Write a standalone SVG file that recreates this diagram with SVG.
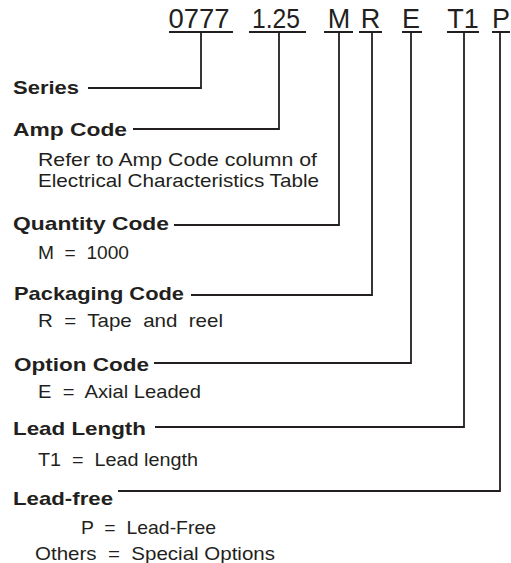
<svg xmlns="http://www.w3.org/2000/svg" width="511" height="563" viewBox="0 0 511 563">
<style>
.code{font-family:"Liberation Sans",Arial,sans-serif;font-size:27px;fill:#231f20;text-anchor:middle}
.lbl{font-family:"Liberation Sans",Arial,sans-serif;font-size:19px;font-weight:bold;fill:#231f20}
.desc{font-family:"Liberation Sans",Arial,sans-serif;font-size:18.5px;fill:#231f20}
.ul{stroke:#231f20;stroke-width:2;fill:none}
.conn{stroke:#231f20;stroke-width:1.8;fill:none}
</style>
<rect width="511" height="563" fill="#ffffff"/>
<g id="code">
  <g id="code-series"><text class="code" x="199" y="28" textLength="61" lengthAdjust="spacingAndGlyphs">0777</text><line class="ul" x1="169" y1="32" x2="233" y2="32"/></g>
  <g id="code-amp"><text class="code" x="276" y="28" textLength="48" lengthAdjust="spacingAndGlyphs">1.25</text><line class="ul" x1="249" y1="32" x2="306" y2="32"/></g>
  <g id="code-qty"><text class="code" x="339" y="28">M</text><line class="ul" x1="324" y1="32" x2="353" y2="32"/></g>
  <g id="code-pack"><text class="code" x="370.5" y="28">R</text><line class="ul" x1="359" y1="32" x2="382" y2="32"/></g>
  <g id="code-opt"><text class="code" x="411" y="28">E</text><line class="ul" x1="402" y1="32" x2="422" y2="32"/></g>
  <g id="code-lead"><text class="code" x="463" y="28">T1</text><line class="ul" x1="447" y1="32" x2="479" y2="32"/></g>
  <g id="code-free"><text class="code" x="501" y="28">P</text><line class="ul" x1="492" y1="32" x2="510" y2="32"/></g>
</g>
<g id="connectors">
  <polyline class="conn" points="201,33 201,88 88,88"/>
  <polyline class="conn" points="279,33 279,129 133,129"/>
  <polyline class="conn" points="339,33 339,225 174,225"/>
  <polyline class="conn" points="372,33 372,295 191,295"/>
  <polyline class="conn" points="411,33 411,363 154,363"/>
  <polyline class="conn" points="464,33 464,427 155,427"/>
  <polyline class="conn" points="500,33 500,491 118,491"/>
</g>
<g id="series"><text class="lbl" x="13" y="94" textLength="66" lengthAdjust="spacingAndGlyphs">Series</text></g>
<g id="amp-code">
  <text class="lbl" x="13" y="136" textLength="114" lengthAdjust="spacingAndGlyphs">Amp Code</text>
  <text class="desc" x="38" y="166" textLength="279" lengthAdjust="spacingAndGlyphs">Refer to Amp Code column of</text>
  <text class="desc" x="38" y="187" textLength="281" lengthAdjust="spacingAndGlyphs">Electrical Characteristics Table</text>
</g>
<g id="quantity-code">
  <text class="lbl" x="13" y="230" textLength="156" lengthAdjust="spacingAndGlyphs">Quantity Code</text>
  <text class="desc" x="38" y="259" textLength="91" lengthAdjust="spacingAndGlyphs" xml:space="preserve">M  =  1000</text>
</g>
<g id="packaging-code">
  <text class="lbl" x="14" y="300" textLength="170" lengthAdjust="spacingAndGlyphs">Packaging Code</text>
  <text class="desc" x="38" y="327" textLength="185" lengthAdjust="spacingAndGlyphs" xml:space="preserve">R  =  Tape  and  reel</text>
</g>
<g id="option-code">
  <text class="lbl" x="14" y="371" textLength="135" lengthAdjust="spacingAndGlyphs">Option Code</text>
  <text class="desc" x="38" y="398" textLength="163" lengthAdjust="spacingAndGlyphs" xml:space="preserve">E  =  Axial Leaded</text>
</g>
<g id="lead-length">
  <text class="lbl" x="13" y="435" textLength="133" lengthAdjust="spacingAndGlyphs">Lead Length</text>
  <text class="desc" x="38" y="466" textLength="160" lengthAdjust="spacingAndGlyphs" xml:space="preserve">T1  =  Lead length</text>
</g>
<g id="lead-free">
  <text class="lbl" x="13" y="505" textLength="100" lengthAdjust="spacingAndGlyphs">Lead-free</text>
  <text class="desc" x="81" y="534" textLength="135" lengthAdjust="spacingAndGlyphs" xml:space="preserve">P  =  Lead-Free</text>
  <text class="desc" x="35" y="560" textLength="240" lengthAdjust="spacingAndGlyphs" xml:space="preserve">Others  =  Special Options</text>
</g>
</svg>
